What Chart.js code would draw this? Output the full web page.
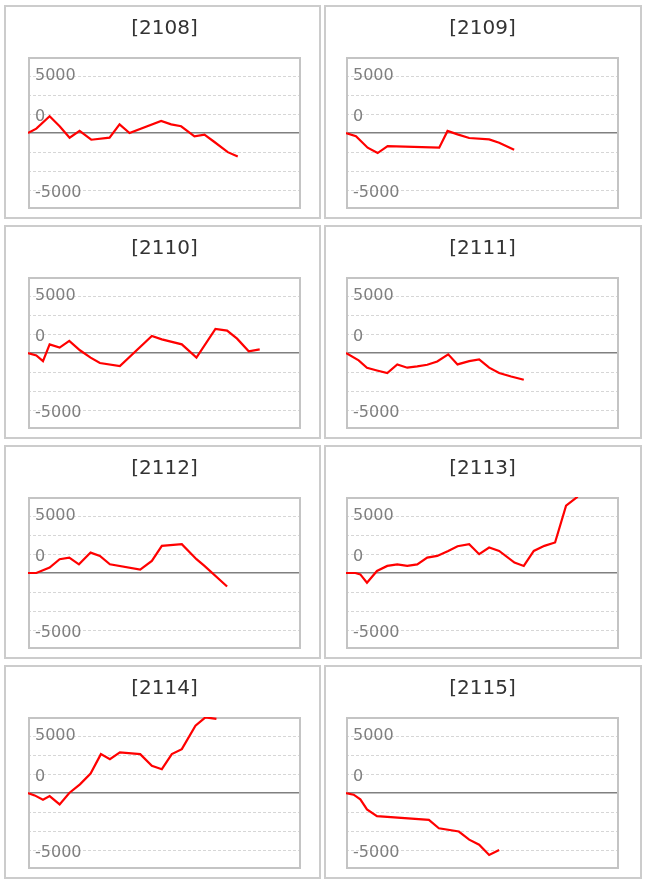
<!DOCTYPE html>
<html>
<head>
<meta charset="utf-8">
<script src="https://cdn.jsdelivr.net/npm/chart.js@4.4.1/dist/chart.umd.min.js"></script>
<style>
  body { margin: 0; background: #fff; }
  .panel { position: absolute; border: 2px solid #cccccc; background: #fff; }
  .panel canvas { display: block; }
</style>
</head>
<body>
<script>
const titles = ['[2108]', '[2109]', '[2110]', '[2111]', '[2112]', '[2113]', '[2114]', '[2115]'];

// day offsets and running values for each contract
const days2108 = [0, 2.5, 6.5, 9.5, 12.5, 15.5, 19, 24.5, 27.5, 30.5, 40, 43, 46, 50, 53, 56, 60, 63];
const pnl2108 = [0, 380, 1470, 590, -410, 180, -590, -410, 760, 0, 1060, 760, 590, -290, -150, -790, -1680, -2060];

const days2109 = [0, 3, 6.5, 9.5, 12.5, 28, 30.5, 33.5, 37, 43, 46, 50.5];
const pnl2109 = [0, -290, -1290, -1760, -1150, -1290, 180, -120, -440, -560, -850, -1470];

const days2110 = [0, 2.5, 4.5, 6.5, 9.5, 12.4, 15.6, 18.8, 21.6, 27.6, 37.2, 40.2, 46.2, 50.6, 56.3, 59.8, 62.8, 66.3, 69.6];
const pnl2110 = [0, -210, -710, 760, 470, 1060, 240, -410, -880, -1150, 1500, 1200, 760, -410, 2120, 1970, 1260, 150, 320];

const days2111 = [0, 3.8, 6.3, 9.3, 12.4, 15.4, 18.4, 21.4, 24.4, 27.4, 30.7, 33.5, 37, 40, 43, 46, 49.6, 53.4];
const pnl2111 = [0, -650, -1290, -1530, -1760, -1000, -1290, -1180, -1030, -740, -120, -1000, -710, -560, -1290, -1760, -2060, -2350];

const days2112 = [0, 2.5, 6.5, 9.5, 12.4, 15.3, 18.8, 21.6, 24.6, 33.7, 37.2, 40.2, 46.2, 50.6, 53, 59.8];
const pnl2112 = [0, 0, 470, 1210, 1350, 760, 1790, 1500, 760, 290, 1060, 2380, 2530, 1210, 620, -1180];

const days2113 = [0, 2.8, 4.3, 6.3, 9.3, 12.4, 15.4, 18.4, 21.4, 24.4, 27.4, 30.7, 33.5, 37, 40, 43, 46, 50.6, 53.4, 56.4, 59.6, 62.8, 66.1, 69.6];
const pnl2113 = [0, 0, -120, -850, 180, 620, 760, 620, 760, 1350, 1500, 1940, 2350, 2530, 1650, 2230, 1940, 910, 620, 1940, 2380, 2680, 5910, 6700];

const days2114 = [0, 2, 4.5, 6.5, 9.5, 12.4, 15.6, 18.8, 21.9, 24.6, 27.6, 33.7, 37.2, 40.2, 43.2, 46.2, 50.3, 53.3, 56.6];
const pnl2114 = [0, -210, -590, -270, -1000, 0, 760, 1710, 3410, 2970, 3560, 3410, 2380, 2090, 3410, 3850, 5910, 6640, 6500];

const days2115 = [0, 2.3, 4.3, 6.3, 9.3, 24.9, 27.9, 33.9, 37, 40, 43, 46];
const pnl2115 = [0, -150, -560, -1440, -2030, -2350, -3090, -3380, -4090, -4530, -5440, -5000];

const yTickLabels = [5000, 0, -5000];
const yGridStep = 5000 / 3;
const dayMax = 82;

const allDays = [days2108, days2109, days2110, days2111, days2112, days2113, days2114, days2115];
const allPnl = [pnl2108, pnl2109, pnl2110, pnl2111, pnl2112, pnl2113, pnl2114, pnl2115];

// gray box around the plot area
const plotFrame = {
  id: 'plotFrame',
  beforeDatasetsDraw(chart) {
    const a = chart.chartArea;
    const c = chart.ctx;
    c.save();
    c.strokeStyle = '#c4c4c4';
    c.lineWidth = 2;
    c.strokeRect(a.left + 1, a.top + 1, a.width - 2, a.height - 2);
    c.restore();
  }
};

function tickValue(ctx) {
  return ctx.tick ? Math.round(ctx.tick.value) : null;
}

titles.forEach((title, i) => {
  const col = i % 2;
  const row = Math.floor(i / 2);

  const div = document.createElement('div');
  div.className = 'panel';
  div.style.left = (col ? 324 : 4) + 'px';
  div.style.top = (5 + row * 220) + 'px';
  const canvas = document.createElement('canvas');
  canvas.width = col ? 314 : 313;
  canvas.height = 210;
  div.appendChild(canvas);
  document.body.appendChild(div);

  const points = allDays[i].map((d, k) => ({ x: d, y: allPnl[i][k] }));

  new Chart(canvas.getContext('2d'), {
    type: 'line',
    data: {
      datasets: [{
        data: points,
        borderColor: '#ff0000',
        borderWidth: 2.2,
        pointRadius: 0,
        fill: false,
        tension: 0
      }]
    },
    options: {
      responsive: false,
      animation: false,
      devicePixelRatio: 1,
      layout: { padding: { left: col ? 20 : 22, right: col ? 21 : 18, top: 0, bottom: 8 } },
      scales: {
        x: { type: 'linear', min: 0, max: dayMax, display: false },
        y: {
          min: -4 * yGridStep,
          max: 4 * yGridStep,
          afterBuildTicks: s => {
            s.ticks = [-4, -3, -2, -1, 0, 1, 2, 3, 4].map(k => ({ value: k * yGridStep }));
          },
          afterFit: s => {
            s.width = 0;
            s.paddingTop = 0;
            s.paddingBottom = 0;
          },
          grid: {
            drawTicks: false,
            color: ctx => {
              const v = tickValue(ctx);
              if (v === 0) return '#808080';
              if (Math.abs(v) > 6000) return 'rgba(0,0,0,0)';
              return '#d6d6d6';
            },
            lineWidth: ctx => tickValue(ctx) === 0 ? 1.5 : 1
          },
          border: {
            display: false,
            dash: ctx => tickValue(ctx) === 0 ? [] : [3, 2]
          },
          ticks: {
            mirror: true,
            padding: 7,
            autoSkip: false,
            color: '#7f7f7f',
            font: ctx => {
              const v = tickValue(ctx);
              // the "0" label sits higher, the "-5000" label a little lower
              const lh = v === 0 ? '32px' : (v === -5000 ? '6px' : 1.2);
              return { family: 'DejaVu Sans', size: 16, lineHeight: lh };
            },
            callback: v => {
              const r = Math.round(v);
              if (!yTickLabels.includes(r)) return '';
              if (r === 0) return ['0', ''];
              if (r < 0) return ['', String(r)];
              return String(r);
            }
          }
        }
      },
      plugins: {
        legend: { display: false },
        tooltip: { enabled: false },
        title: {
          display: true,
          text: title,
          color: '#333333',
          font: { family: 'DejaVu Sans', size: 20, weight: 'normal', lineHeight: 1.2 },
          padding: { top: 10, bottom: 16 }
        }
      }
    },
    plugins: [plotFrame]
  });
});
</script>
</body>
</html>
